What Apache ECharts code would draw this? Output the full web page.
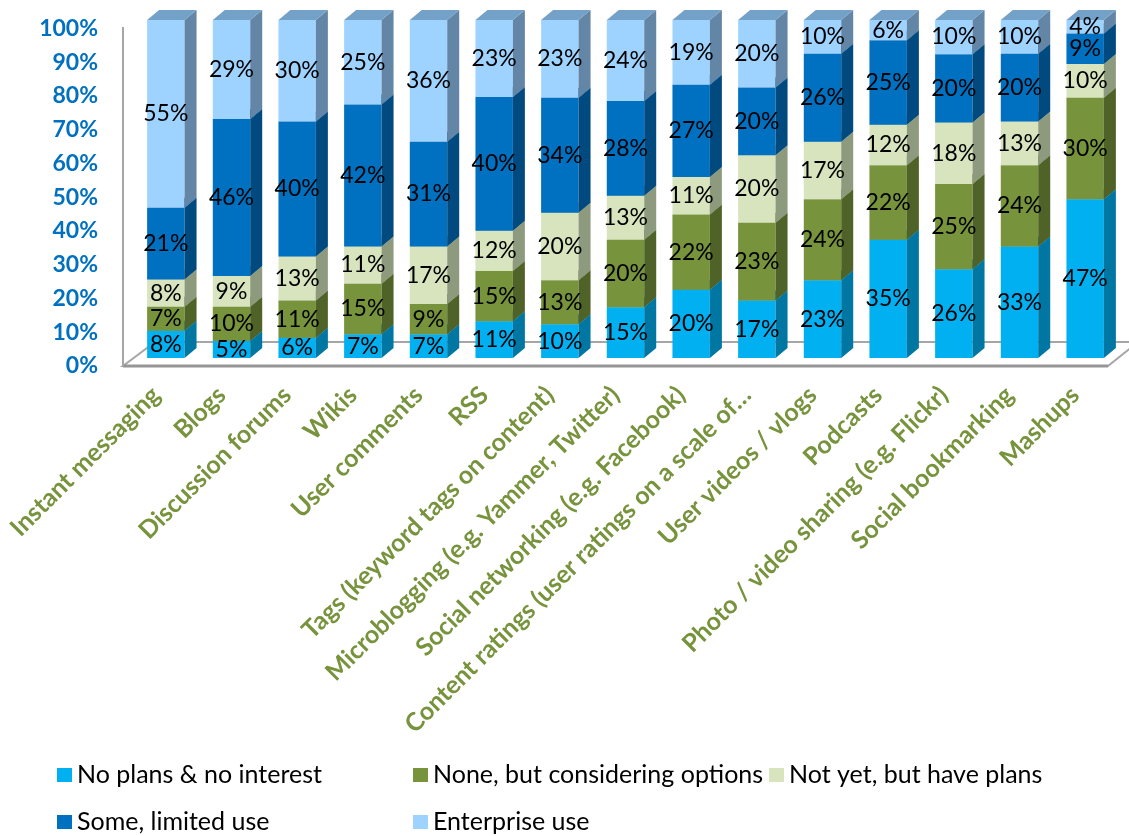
<!DOCTYPE html>
<html>
<head>
<meta charset="utf-8">
<script src="https://cdn.jsdelivr.net/npm/echarts@6/dist/echarts.min.js"></script>
<style>
html,body{margin:0;padding:0;background:#fff;}
#chart{width:1129px;height:836px;}
</style>
</head>
<body>
<div id="chart"></div>
<script>
// ---- data ----
const categories = [
  'Instant messaging','Blogs','Discussion forums','Wikis','User comments','RSS',
  'Tags (keyword tags on content)','Microblogging (e.g. Yammer, Twitter)',
  'Social networking (e.g. Facebook)','Content ratings (user ratings on a scale of…',
  'User videos / vlogs','Podcasts','Photo / video sharing (e.g. Flickr)',
  'Social bookmarking','Mashups'
];
const noPlans     = [8, 5, 6, 7, 7, 11, 10, 15, 20, 17, 23, 35, 26, 33, 47];
const considering = [7, 10, 11, 15, 9, 15, 13, 20, 22, 23, 24, 22, 25, 24, 30];
const notYet      = [8, 9, 13, 11, 17, 12, 20, 13, 11, 20, 17, 12, 18, 13, 10];
const someUse     = [21, 46, 40, 42, 31, 40, 34, 28, 27, 20, 26, 25, 20, 20, 9];
const enterprise  = [55, 29, 30, 25, 36, 23, 23, 24, 19, 20, 10, 6, 10, 10, 4];
const seriesNames = ['No plans & no interest','None, but considering options','Not yet, but have plans','Some, limited use','Enterprise use'];
const yTicks = [0,10,20,30,40,50,60,70,80,90,100];

// ---- styles ----
const faces = [
  {front:'#00B0F0', side:'#0077A3', top:'#0090C4'},
  {front:'#77933C', side:'#4F6228', top:'#62792F'},
  {front:'#D7E4BD', side:'#8E9A7D', top:'#B3BF9E'},
  {front:'#0070C0', side:'#004A80', top:'#005A9C'},
  {front:'#9FD3FF', side:'#6386A6', top:'#74A1C7'}
];
const allSeries = [noPlans, considering, notYet, someUse, enterprise];
const DX = 12, DY = 10;
const FONT = 'Lato, "Open Sans", sans-serif';

// 100% stacking (each category normalised to its total)
const totals = categories.map((c, i) => allSeries.reduce((s, arr) => s + arr[i], 0));
const stacked = allSeries.map(() => []);
categories.forEach((c, i) => {
  let acc = 0;
  allSeries.forEach((arr, k) => {
    const b = acc / totals[i] * 100;
    acc += arr[i];
    const t = acc / totals[i] * 100;
    stacked[k].push([i, b, t, arr[i]]);
  });
});

function makeRender(k) {
  return function (params, api) {
    const i = api.value(0), b = api.value(1), t = api.value(2), raw = api.value(3);
    const p0 = api.coord([i, b]);
    const p1 = api.coord([i, t]);
    const bw = api.size([1, 0])[0] * 0.57;
    const xL = p0[0] - bw / 2, xR = p0[0] + bw / 2;
    const yB = p0[1], yT = p1[1];
    const f = faces[k];
    return {
      type: 'group',
      children: [
        {type: 'rect', shape: {x: xL, y: yT, width: bw, height: yB - yT}, style: {fill: f.front}},
        {type: 'polygon', shape: {points: [[xR, yB], [xR + DX, yB - DY], [xR + DX, yT - DY], [xR, yT]]}, style: {fill: f.side}},
        {type: 'polygon', shape: {points: [[xL, yT], [xR, yT], [xR + DX, yT - DY], [xL + DX, yT - DY]]}, style: {fill: f.top}},
        {type: 'text', z2: 100, style: {text: raw + '%', x: p0[0], y: (yB + yT) / 2, align: 'center', verticalAlign: 'middle',
          fill: '#000', font: '23px ' + FONT}}
      ]
    };
  };
}

const barSeries = allSeries.map((arr, k) => ({
  name: seriesNames[k],
  type: 'custom',
  xAxisIndex: 0, yAxisIndex: 0,
  renderItem: makeRender(k),
  encode: {x: 0, y: 2},
  itemStyle: {color: faces[k].front},
  data: stacked[k],
  silent: true,
  z: 3
}));

const floorSeries = {
  type: 'custom',
  xAxisIndex: 0, yAxisIndex: 0,
  silent: true,
  z: 1,
  data: [[0, 0]],
  renderItem: function (params, api) {
    const cs = params.coordSys;
    const fl = cs.x - 10, fr = cs.x + cs.width - 10;
    const fy = cs.y + cs.height + 8;
    const by = fy - 24;
    return {
      type: 'group',
      children: [
        {type: 'polygon', shape: {points: [[fl, fy], [fr, fy], [fr + 30, by], [fl + 32, by]]},
          style: {fill: '#fff', stroke: '#A6A6A6', lineWidth: 2}},
        {type: 'line', shape: {x1: fl, y1: fy, x2: fr, y2: fy}, style: {stroke: '#969696', lineWidth: 3}},
        {type: 'line', shape: {x1: fl, y1: cs.y + 7, x2: fl, y2: fy}, style: {stroke: '#A6A6A6', lineWidth: 2}}
      ]
    };
  }
};

const legendBase = {
  padding: 0, itemWidth: 15, itemHeight: 14, itemGap: 0, icon: 'rect', selectedMode: false,
  textStyle: {fontFamily: FONT, fontSize: 25, color: '#000', lineHeight: 28}
};
const legendPos = [[57, 761], [413, 761], [769, 761], [57, 808], [413, 808]];

const option = {
  animation: false,
  backgroundColor: '#fff',
  grid: [
    {left: 133, right: 11, top: 20, bottom: 478},
    {left: 123, right: 21, top: 28.5, bottom: 470}
  ],
  xAxis: [
    {type: 'category', gridIndex: 0, data: categories, axisLine: {show: false}, axisTick: {show: false}, axisLabel: {show: false}},
    {type: 'category', gridIndex: 1, data: categories, axisLine: {show: false}, axisTick: {show: false},
      axisLabel: {interval: 0, rotate: 45, margin: 25, color: '#77933C', fontWeight: 'bold',
        fontFamily: FONT, fontSize: 25}}
  ],
  yAxis: [
    {type: 'value', gridIndex: 0, min: 0, max: 100, interval: 10, axisLine: {show: false}, axisTick: {show: false},
      axisLabel: {show: false}, splitLine: {show: false}},
    {type: 'value', gridIndex: 1, min: yTicks[0], max: yTicks[yTicks.length - 1], interval: 10,
      axisLine: {show: false}, axisTick: {show: false}, splitLine: {show: false},
      axisLabel: {formatter: '{value}%', margin: 25, color: '#0070C0', fontWeight: 'bold',
        fontFamily: FONT, fontSize: 23}}
  ],
  legend: seriesNames.map((n, k) => Object.assign({}, legendBase, {data: [n], left: legendPos[k][0], top: legendPos[k][1]})),
  series: [floorSeries].concat(barSeries)
};

const chart = echarts.init(document.getElementById('chart'), null, {renderer: 'canvas'});
chart.setOption(option);
</script>
</body>
</html>
